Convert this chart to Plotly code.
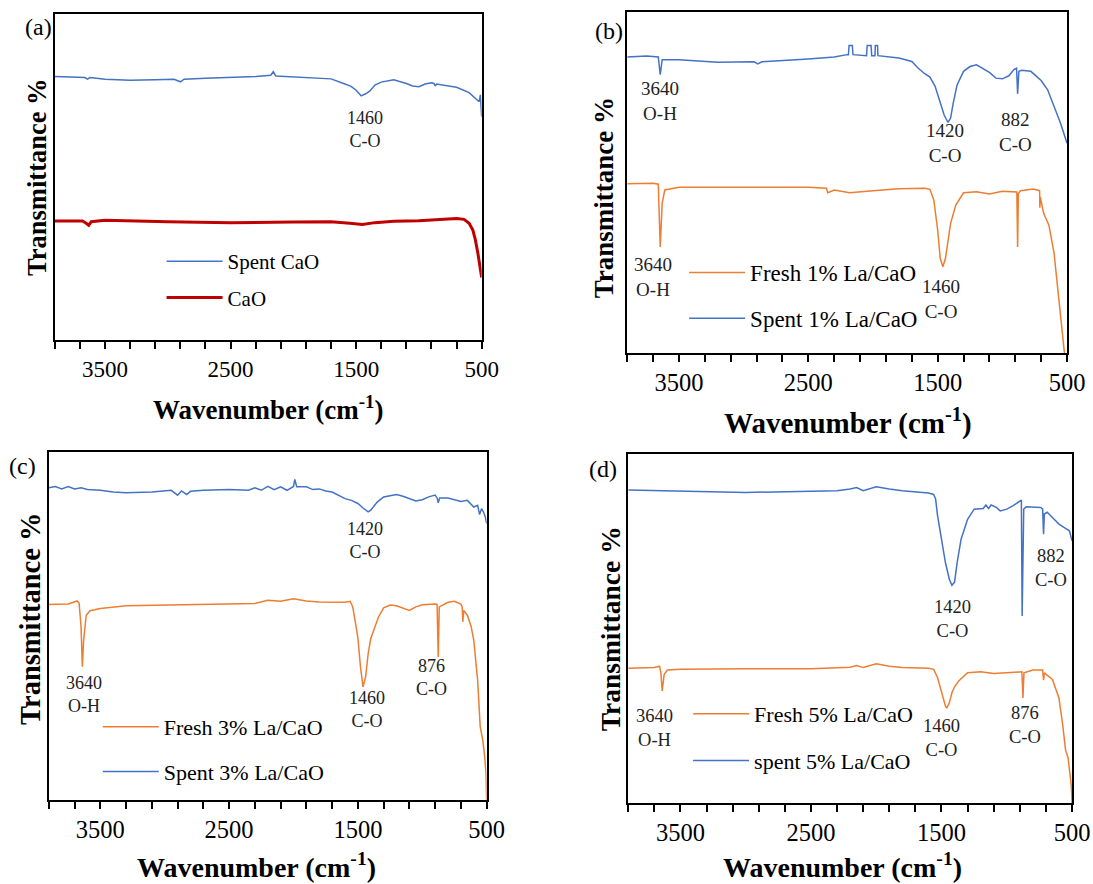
import plotly.graph_objects as go

SERIF = "Times New Roman, Liberation Serif, serif"
BLUE = "#4472C4"
ORANGE = "#ED7D31"
RED = "#C00000"
W, H = 1093, 884
# horizontal extent actually available to the drawing (page width minus scrollbar gutter)
WX = 1078

# ---------------- (a) CaO ----------------
a_spent_wn = [3900, 3700, 3660, 3640, 3620, 3500, 3300, 3100, 2950, 2900, 2870, 2700, 2500, 2300,
              2180, 2160, 2140, 2000, 1800, 1700, 1600, 1540, 1500, 1460, 1420, 1390, 1350, 1300,
              1200, 1100, 1050, 1000, 950, 900, 880, 870, 860, 800, 700, 600, 550, 520, 510, 505, 500]
a_spent_t = [80.8, 80.6, 80.5, 80.0, 80.5, 80.0, 79.7, 79.8, 80.0, 79.2, 80.0, 80.3, 80.5, 80.8,
             81.2, 82.3, 81.0, 80.7, 80.5, 80.1, 78.7, 77.8, 76.6, 74.9, 75.6, 76.4, 78.2, 79.1,
             79.8, 78.7, 77.9, 77.7, 78.5, 78.9, 78.7, 77.9, 78.5, 78.2, 77.5, 75.9, 74.2, 73.1,
             75.2, 71.6, 68.5]

a_cao_wn = [3900, 3680, 3650, 3630, 3610, 3500, 3000, 2500, 2000, 1700, 1550, 1450, 1350, 1200,
            1000, 800, 700, 640, 600, 570, 550, 530, 510, 500]
a_cao_t = [36.5, 36.5, 35.8, 35.2, 36.3, 36.7, 36.3, 36.0, 36.2, 36.3, 35.8, 35.4, 36.0, 36.4,
           36.6, 37.0, 37.3, 37.0, 35.8, 33.7, 30.7, 26.6, 22.5, 19.2]

# ---------------- (b) 1% La/CaO ----------------
b_spent_wn = [3900, 3750, 3660, 3645, 3630, 3500, 3200, 2920, 2890, 2860, 2500, 2300, 2200, 2190,
              2185, 2160, 2155, 2050, 2045, 2015, 2010, 1985, 1982, 1965, 1962, 1800, 1700, 1650,
              1600, 1560, 1520, 1480, 1450, 1420, 1400, 1380, 1350, 1300, 1250, 1200, 1150, 1100,
              1050, 1000, 950, 910, 890, 882, 872, 850, 780, 750, 700, 650, 600, 550, 500]
b_spent_t = [86.8, 87.1, 86.8, 81.6, 86.0, 86.0, 85.3, 85.4, 84.8, 85.4, 86.2, 86.8, 87.5, 87.5,
             90.2, 90.2, 87.5, 87.2, 90.2, 90.2, 87.2, 87.2, 90.2, 90.2, 87.2, 86.5, 85.5, 83.5,
             81.9, 80.9, 78.2, 73.3, 69.8, 67.6, 68.9, 73.3, 78.6, 82.6, 84.0, 84.5, 83.5, 82.3,
             80.6, 80.4, 81.3, 83.1, 83.5, 76.0, 82.6, 82.9, 82.6, 81.6, 79.9, 77.2, 72.5, 67.4,
             61.5]

b_fresh_wn = [3900, 3700, 3660, 3645, 3630, 3610, 3500, 3000, 2500, 2360, 2350, 2300, 2180, 2000,
              1800, 1600, 1560, 1530, 1500, 1480, 1460, 1440, 1420, 1400, 1360, 1300, 1200, 1100,
              1000, 900, 888, 882, 876, 860, 760, 712, 710, 707, 680, 640, 600, 560, 530, 520]
b_fresh_t = [49.6, 49.8, 49.5, 31.1, 43.9, 47.8, 48.6, 48.6, 48.6, 48.3, 47.0, 47.8, 47.0, 47.6,
             48.2, 48.3, 48.0, 44.9, 36.0, 27.7, 25.3, 27.7, 33.1, 38.0, 43.4, 47.0, 47.3, 46.6,
             47.4, 47.4, 47.2, 31.1, 46.8, 47.6, 48.1, 47.6, 42.6, 45.8, 40.9, 37.5, 29.2, 13.5,
             1.8, 0.0]

# ---------------- (c) 3% La/CaO ----------------
c_spent_wn = [3900, 3850, 3800, 3750, 3700, 3650, 3600, 3500, 3400, 3300, 3100, 2950, 2900, 2870,
              2830, 2800, 2700, 2500, 2350, 2300, 2250, 2200, 2150, 2100, 2050, 2000, 1990, 1975,
              1900, 1850, 1800, 1750, 1700, 1650, 1600, 1550, 1500, 1460, 1420, 1400, 1350, 1300,
              1200, 1150, 1100, 1050, 1000, 950, 900, 885, 876, 865, 800, 750, 700, 650, 600, 570,
              555, 540, 525, 510, 500]
c_spent_t = [89.7, 90.1, 89.4, 90.1, 89.4, 89.7, 89.2, 89.0, 88.5, 88.3, 88.5, 89.0, 87.6, 88.8,
             87.8, 88.7, 89.0, 89.2, 89.0, 89.7, 89.0, 90.1, 89.2, 90.0, 89.0, 90.1, 92.1, 90.0,
             90.0, 89.2, 89.4, 88.8, 88.5, 87.6, 86.6, 86.1, 85.2, 83.9, 82.8, 83.3, 85.6, 87.1,
             87.8, 87.3, 86.6, 85.9, 86.3, 87.1, 87.6, 86.8, 85.4, 86.8, 86.8, 86.3, 85.8, 86.1,
             84.2, 84.7, 82.0, 83.7, 82.8, 81.3, 79.4]

c_fresh_wn = [3900, 3750, 3680, 3665, 3650, 3640, 3630, 3610, 3580, 3500, 3300, 3000, 2500, 2300,
              2200, 2100, 2000, 1900, 1800, 1600, 1560, 1540, 1520, 1500, 1480, 1460, 1440, 1420,
              1400, 1380, 1340, 1300, 1250, 1200, 1100, 1050, 1000, 900, 885, 876, 868, 800, 750,
              700, 690, 685, 678, 650, 620, 600, 570, 550, 530, 515, 505, 500]
c_fresh_t = [56.2, 56.3, 57.2, 56.5, 49.8, 38.3, 45.9, 53.1, 54.4, 55.0, 55.8, 56.0, 56.3, 56.5,
             57.4, 57.1, 57.8, 57.2, 56.9, 56.8, 57.1, 55.5, 51.2, 46.6, 38.3, 32.5, 35.4, 42.1,
             46.4, 48.3, 52.6, 55.2, 56.0, 55.8, 54.5, 55.5, 56.1, 56.3, 56.2, 41.1, 55.5, 56.8,
             57.1, 56.3, 55.5, 51.2, 54.5, 53.1, 49.8, 45.9, 34.4, 21.1, 17.2, 12.4, 7.7, 0.0]

# ---------------- (d) 5% La/CaO ----------------
d_spent_wn = [3900, 3700, 3600, 3300, 3000, 2500, 2300, 2200, 2150, 2100, 2050, 2000, 1900, 1800,
              1600, 1560, 1545, 1530, 1500, 1470, 1440, 1420, 1400, 1380, 1350, 1300, 1250, 1180,
              1160, 1140, 1120, 1080, 1050, 1000, 950, 900, 888, 882, 876, 870, 850, 780, 740, 725,
              718, 712, 690, 650, 600, 550, 520, 510, 500]
d_spent_t = [89.7, 89.5, 89.5, 89.2, 89.0, 89.3, 89.5, 90.0, 90.4, 89.5, 90.0, 90.6, 90.0, 89.5,
             88.8, 88.4, 87.1, 82.3, 75.6, 68.9, 64.1, 62.4, 63.3, 68.9, 75.6, 81.3, 84.2, 84.4,
             85.4, 84.4, 85.4, 84.7, 83.7, 84.2, 85.2, 86.6, 86.8, 53.6, 67.9, 84.2, 84.9, 84.9,
             84.7, 84.2, 77.0, 82.8, 83.3, 81.8, 79.9, 78.7, 78.0, 76.6, 75.1]

d_fresh_wn = [3900, 3700, 3660, 3650, 3640, 3625, 3600, 3500, 3000, 2500, 2200, 2150, 2100, 2000,
              1900, 1800, 1600, 1560, 1530, 1500, 1470, 1460, 1440, 1420, 1400, 1370, 1300, 1200,
              1100, 1000, 900, 884, 876, 868, 800, 725, 718, 712, 650, 600, 570, 550, 530, 515,
              505, 500]
d_fresh_t = [38.6, 38.8, 39.2, 37.3, 32.1, 36.8, 38.1, 38.3, 38.5, 38.5, 38.9, 39.4, 38.8, 39.9,
             39.2, 38.8, 38.6, 38.3, 35.9, 31.6, 27.8, 27.2, 28.7, 31.6, 33.3, 34.9, 37.3, 37.6,
             37.1, 37.3, 37.6, 37.6, 30.1, 37.3, 38.1, 38.1, 35.2, 37.3, 35.4, 30.1, 22.0, 15.3,
             12.9, 8.6, 4.8, 0.0]

# Band assignments: (text, wavenumber, transmittance position)
a_bands = [("1460<br>C-O", 1433, 64.6)]
b_bands = [("3640<br>O-H", 3647, 73.8), ("1420<br>C-O", 1440, 61.6), ("882<br>C-O", 895, 64.8),
           ("3640<br>O-H", 3702, 22.2), ("1460<br>C-O", 1475, 15.7)]
c_bands = [("1420<br>C-O", 1448, 74.5), ("3640<br>O-H", 3629, 30.3), ("1460<br>C-O", 1430, 25.9),
           ("876<br>C-O", 930, 35.1)]
d_bands = [("1420<br>C-O", 1414, 52.6), ("882<br>C-O", 659, 67.3), ("3640<br>O-H", 3702, 21.5),
           ("1460<br>C-O", 1501, 18.5), ("876<br>C-O", 861, 22.3)]

# per-panel layout in pixels
frames = {  # left, top, right, bottom
    "a": (55, 14, 483, 340),
    "b": (629, 12, 1070, 353),
    "c": (49, 452, 488, 800),
    "d": (630, 454, 1075, 803),
}
legend_pos = {"a": (167, 257, 6), "b": (691, 267, 15), "c": (103, 722, 14), "d": (695, 709, 16)}
letter_pos = {"a": (39, 27), "b": (611, 31), "c": (23, 466), "d": (605, 469)}
xtitle_pos = {"a": (269, 408), "b": (850, 421), "c": (257, 865), "d": (845, 865)}
ytitle_pos = {"a": (37, 177), "b": (606, 198), "c": (30, 619), "d": (612, 629)}
# font sizes: tick labels, legend, band labels, x title, y title
sizes = {
    "a": (23, 21, 18, 27, 26.5),
    "b": (24.5, 23, 19, 29, 27),
    "c": (24.5, 22, 18, 28, 28.5),
    "d": (24.5, 22, 18.5, 28, 27.5),
}
ITEM_W = 56


def fx(px):
    return px / WX


def fy(py):
    return 1 - py / H


fig = go.Figure()

panels = [
    ("a", "", [("Spent CaO", a_spent_wn, a_spent_t, BLUE, 1.5),
               ("CaO", a_cao_wn, a_cao_t, RED, 3)], a_bands),
    ("b", "2", [("Fresh 1% La/CaO", b_fresh_wn, b_fresh_t, ORANGE, 1.5),
                ("Spent 1% La/CaO", b_spent_wn, b_spent_t, BLUE, 1.5)], b_bands),
    ("c", "3", [("Fresh 3% La/CaO", c_fresh_wn, c_fresh_t, ORANGE, 1.5),
                ("Spent 3% La/CaO", c_spent_wn, c_spent_t, BLUE, 1.5)], c_bands),
    ("d", "4", [("Fresh 5% La/CaO", d_fresh_wn, d_fresh_t, ORANGE, 1.5),
                ("spent 5% La/CaO", d_spent_wn, d_spent_t, BLUE, 1.5)], d_bands),
]

annotations = []
for key, sfx, series, bands in panels:
    l, t, r, b = frames[key]
    s_tick, s_leg, s_band, s_xt, s_yt = sizes[key]
    xa, ya = "x" + sfx, "y" + sfx
    lg = "legend" + sfx
    for i, (name, wn, tr, col, lw) in enumerate(series):
        fig.add_trace(go.Scatter(
            x=wn, y=tr, mode="lines", name=name,
            line=dict(color=col, width=lw),
            xaxis=xa, yaxis=ya, legend=lg, legendgroup=key + str(i),
        ))
    fig.layout["xaxis" + sfx] = dict(
        domain=[fx(l), min(fx(r), 1.0)], anchor=ya, range=[3900, 500],
        tickmode="linear", tick0=500, dtick=1000,
        ticks="outside", ticklen=7, tickwidth=1.5, tickcolor="black",
        minor=dict(tickmode="linear", tick0=500, dtick=200, ticks="outside", ticklen=7,
                   tickwidth=1.5, tickcolor="black", showgrid=False),
        showline=True, mirror=True, linecolor="black", linewidth=2,
        showgrid=False, zeroline=False, ticklabelstandoff=0,
        tickfont=dict(family=SERIF, size=s_tick, color="black"),
    )
    fig.layout["yaxis" + sfx] = dict(
        domain=[fy(b), fy(t)], anchor=xa, range=[0, 100],
        showticklabels=False, ticks="", showline=True, mirror=True,
        linecolor="black", linewidth=2, showgrid=False, zeroline=False,
    )
    lx, ly, gap = legend_pos[key]
    fig.layout[lg] = dict(
        x=fx(lx - 5), y=fy(ly - 16), xanchor="left", yanchor="top",
        bgcolor="rgba(0,0,0,0)", tracegroupgap=gap - (s_leg - 21), itemwidth=ITEM_W,
        font=dict(family=SERIF, size=s_leg, color="black"),
    )
    for text, wx, wy in bands:
        annotations.append(dict(
            text=text, x=wx, y=wy, xref=xa, yref=ya, showarrow=False,
            xanchor="center", yanchor="middle",
            font=dict(family=SERIF, size=s_band, color="#222222"), align="center",
        ))

    cx, cy = letter_pos[key]
    annotations.append(dict(text="(%s)" % key, x=fx(cx), y=fy(cy), xref="paper", yref="paper",
                            xanchor="center", yanchor="middle", showarrow=False,
                            font=dict(family=SERIF, size=24, color="black")))
    cx, cy = xtitle_pos[key]
    annotations.append(dict(text="<b>Wavenumber (cm<sup>-1</sup>)</b>", x=fx(cx), y=fy(cy),
                            xref="paper", yref="paper", xanchor="center", yanchor="middle",
                            showarrow=False, font=dict(family=SERIF, size=s_xt, color="black")))
    cx, cy = ytitle_pos[key]
    annotations.append(dict(text="<b>Transmittance %</b>", x=fx(cx), y=fy(cy),
                            xref="paper", yref="paper", xanchor="center", yanchor="middle",
                            showarrow=False, textangle=-90,
                            font=dict(family=SERIF, size=s_yt, color="black")))

fig.update_layout(
    width=W, height=H, autosize=False, margin=dict(l=0, r=0, t=0, b=0),
    paper_bgcolor="white", plot_bgcolor="white",
    showlegend=True, annotations=annotations,
)

# keep the page exactly the size of the figure (no scrollbars, no body margin)
page_fix = (
    "document.documentElement.style.overflow='hidden';"
    "document.body.style.margin='0';document.body.style.overflow='hidden';"
)
fig.write_html("out.html", config={"responsive": False}, post_script=page_fix)
